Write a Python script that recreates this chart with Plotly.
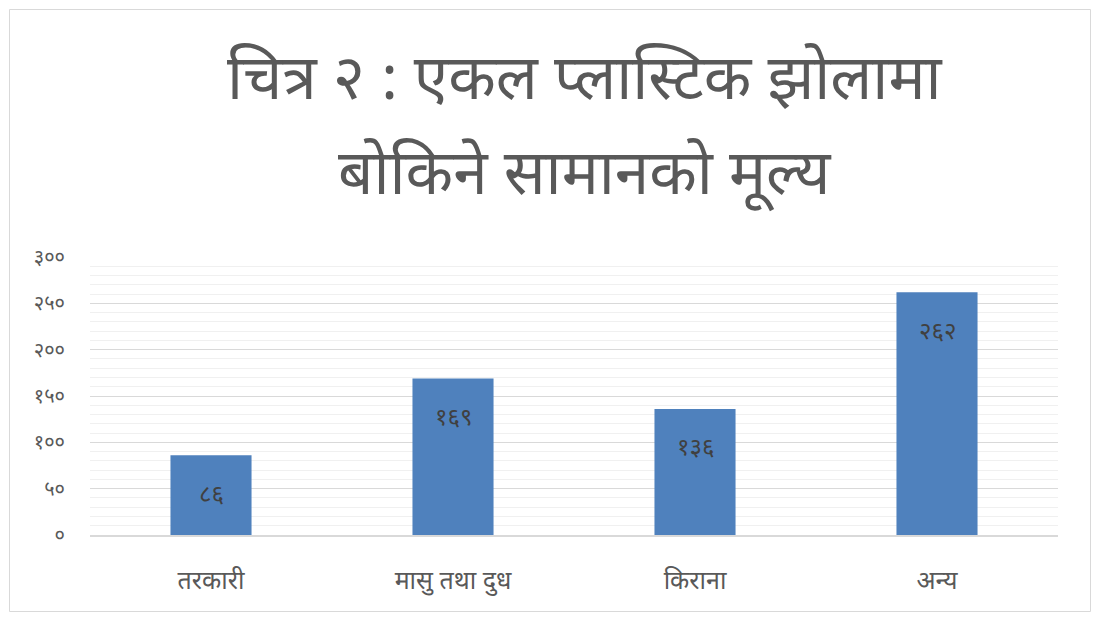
import plotly.graph_objects as go

categories = ["तरकारी", "मासु तथा दुध", "किराना", "अन्य"]
values = [86, 169, 136, 262]
tick_values = [0, 50, 100, 150, 200, 250, 300]
title_line1 = "चित्र २ : एकल प्लास्टिक झोलामा"
title_line2 = "बोकिने सामानको मूल्य"

DEV = str.maketrans("0123456789", "०१२३४५६७८९")
tick_text = [str(v).translate(DEV) for v in tick_values]
bar_text = [str(v).translate(DEV) for v in values]

W, H = 1101, 624
L, R, T, B = 90, 43, 257, 89
pw, ph = W - L - R, H - T - B

def px(x):
    return (x - L) / pw

def py(y):
    return (H - B - y) / ph

FONT = "Noto Sans, sans-serif"

fig = go.Figure(go.Bar(
    x=categories, y=values,
    marker=dict(color="#4f81bd", line=dict(width=0)),
    width=0.335, hoverinfo="x+y",
))

bar_labels = [dict(x=c, y=v, text=t, xref="x", yref="y", showarrow=False,
                   yanchor="middle", yshift=-37,
                   font=dict(family=FONT, size=24, color="#404040"))
              for c, v, t in zip(categories, values, bar_text)]

fig.update_layout(
    width=W, height=H,
    margin=dict(l=L, r=R, t=T, b=B),
    paper_bgcolor="white", plot_bgcolor="white",
    showlegend=False,
    xaxis=dict(showline=True, linecolor="#d9d9d9", linewidth=1.5,
               ticks="", tickfont=dict(family=FONT, size=25, color="#595959"),
               ticklabelstandoff=22, showgrid=False, fixedrange=True),
    yaxis=dict(range=[0, 300], tickvals=tick_values, ticktext=tick_text,
               tickfont=dict(family=FONT, size=20, color="#595959"),
               showgrid=True, gridcolor="#d9d9d9", gridwidth=1,
               zeroline=False, showline=False, ticks="", ticklabelstandoff=24,
               fixedrange=True,
               minor=dict(dtick=10, showgrid=True, gridcolor="#f0f0f0", gridwidth=1)),
    shapes=[dict(type="rect", xref="paper", yref="paper",
                 x0=px(9.5), x1=px(1090.5), y0=py(611.5), y1=py(9.5),
                 line=dict(color="#d9d9d9", width=1), layer="below")],
    annotations=[
        dict(text=title_line1, xref="paper", yref="paper", x=px(584), y=py(75),
             showarrow=False, xanchor="center", yanchor="middle",
             font=dict(family=FONT, size=62, color="#595959")),
        dict(text=title_line2, xref="paper", yref="paper", x=px(584), y=py(170),
             showarrow=False, xanchor="center", yanchor="middle",
             font=dict(family=FONT, size=62, color="#595959")),
    ] + bar_labels,
)

fig.write_html("out.html", config={"displayModeBar": False},
               post_script="document.body.style.margin='0';")
